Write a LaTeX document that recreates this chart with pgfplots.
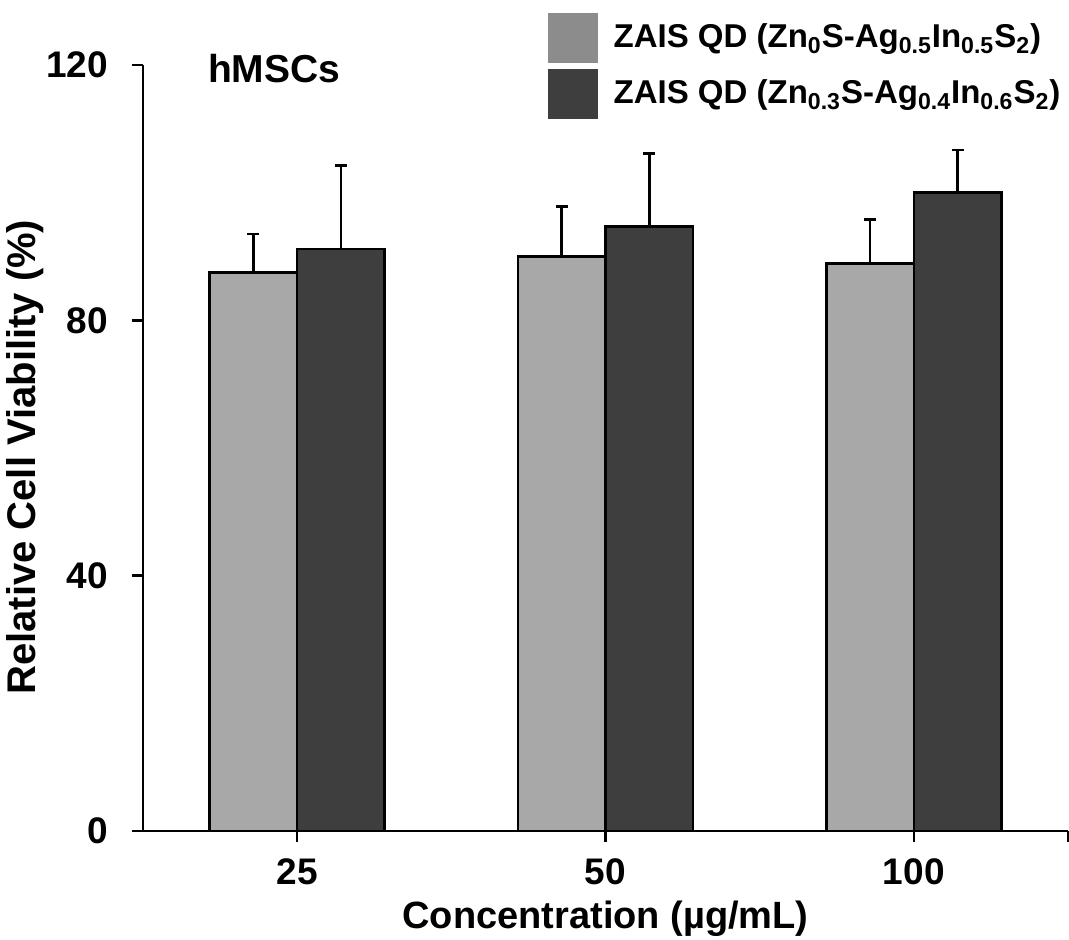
\documentclass[border=0pt]{standalone}
\usepackage{pgfplots}
\pgfplotsset{compat=1.18}
\usepackage{pgfplotstable}
\usepackage{fontspec}
\setmainfont{Liberation Sans}
\definecolor{lightbar}{RGB}{168,168,168}
\definecolor{darkbar}{RGB}{62,62,62}
\definecolor{lightleg}{RGB}{140,140,140}
\definecolor{darkleg}{RGB}{62,62,62}
% x positions: categories at 0,1,2; bars offset by half a bar width
\pgfplotstableread{
x y err
-0.142 87.5 6.0
0.858 90.0 7.8
1.858 88.9 6.9
}\lightdata
\pgfplotstableread{
x y err
0.142 91.2 13.1
1.142 94.7 11.4
2.142 100.0 6.7
}\darkdata
\pgfplotsset{
  bigswatch/.style={legend image code/.code={\fill[##1] (0pt,-12.5pt) rectangle (25pt,12.5pt);}},
}
\begin{document}
\begin{tikzpicture}
\begin{axis}[
  width=462.5pt, height=383pt, scale only axis,
  xmin=-0.5, xmax=2.5, ymin=0, ymax=120,
  axis x line*=bottom, axis y line*=left,
  axis line style={line width=1.3pt, black},
  ytick={0,40,80,120},
  xtick={0,1,2,2.5}, xticklabels={25,50,100,{}},
  tick align=outside, major tick length=5.5pt,
  tick style={line width=1.2pt, black},
  /pgf/number format/assume math mode=true,
  ticklabel style={font=\fontsize{18.5}{21}\selectfont\bfseries},
  xticklabel style={yshift=-5pt},
  yticklabel style={xshift=-8.5pt},
  xlabel={Concentration (µg/mL)},
  ylabel={Relative Cell Viability (\%)},
  xlabel style={font=\fontsize{19}{22}\selectfont\bfseries, at={(axis description cs:0.5,-0.115)}, anchor=center},
  ylabel style={font=\fontsize{20}{23}\selectfont\bfseries, at={(axis description cs:-0.127,0.488)}, anchor=center},
  legend style={at={(rel axis cs:0.437,1.069)}, anchor=north west,
    draw=none, fill=none, font=\fontsize{16.5}{19}\selectfont\bfseries,
    row sep=3pt, inner sep=0pt,
    /tikz/every odd column/.append style={column sep=6pt}},
  legend cell align=left,
  clip=false,
]
\addplot[ybar, forget plot, bar width=0.284, bar shift=0, fill=lightbar, draw=black, line width=1.3pt,
  error bars/.cd, y dir=plus, y explicit,
  error bar style={line width=1.3pt, black},
  error mark options={rotate=90, mark size=3pt, line width=1.3pt, black}]
  table[x=x, y=y, y error=err]{\lightdata};
\addplot[ybar, forget plot, bar width=0.284, bar shift=0, fill=darkbar, draw=black, line width=1.3pt,
  error bars/.cd, y dir=plus, y explicit,
  error bar style={line width=1.3pt, black},
  error mark options={rotate=90, mark size=3pt, line width=1.3pt, black}]
  table[x=x, y=y, y error=err]{\darkdata};
\addlegendimage{bigswatch, fill=lightleg, draw=none}
\addlegendentry{ZAIS QD (Zn\textsubscript{0}S-Ag\textsubscript{0.5}In\textsubscript{0.5}S\textsubscript{2})}
\addlegendimage{bigswatch, fill=darkleg, draw=none}
\addlegendentry{ZAIS QD (Zn\textsubscript{0.3}S-Ag\textsubscript{0.4}In\textsubscript{0.6}S\textsubscript{2})}
\node[anchor=base west, font=\fontsize{19.5}{22}\selectfont\bfseries, inner sep=0pt]
  at (rel axis cs:0.070,0.9765) {hMSCs};
\end{axis}
\pgfresetboundingbox
\path (-71.5pt,-54.5pt) rectangle (463pt,415.5pt);
\end{tikzpicture}
\end{document}
